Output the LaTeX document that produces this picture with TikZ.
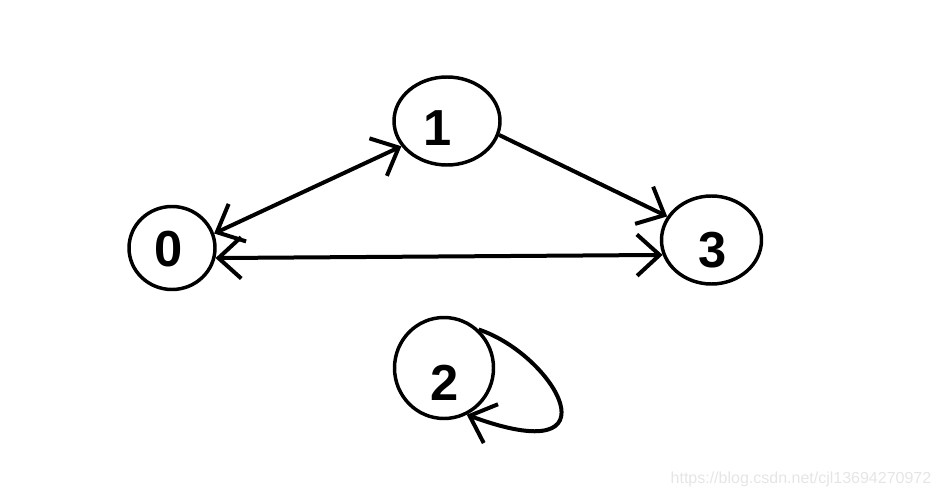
\documentclass[tikz,border=0pt]{standalone}
\usepackage{fontspec}
\setmainfont{Liberation Sans}
\usetikzlibrary{arrows.meta,shapes.geometric}

\tikzset{
  vertex/.style={draw, ellipse, line width=2.6pt, inner sep=0pt},
  num/.style={font=\fontsize{38}{38}\selectfont\bfseries},
  edge/.style={line width=3pt},
  barb/.style={-{Straight Barb[length=17pt,width=31pt]}},
  dbarb/.style={{Straight Barb[length=17pt,width=31pt]}-{Straight Barb[length=17pt,width=31pt]}},
}

\begin{document}
\begin{tikzpicture}[x=0.75pt,y=-0.75pt]
    \useasboundingbox (0,0) rectangle (942,499);

    % vertices
    \node[vertex, minimum width=64.5pt, minimum height=62.25pt] (v0) at (172,248) {};
    \node[vertex, minimum width=79.5pt, minimum height=66pt] (v1) at (447,121) {};
    \node[vertex, minimum width=75pt, minimum height=66pt] (v3) at (711.5,240) {};
    \node[vertex, minimum width=74.25pt, minimum height=75.75pt] (v2) at (444,368) {};

    \node[num] (n0) at (168.5,249.5) {0};
    \node[num] (n1) at (438,128.5) {1};
    \node[num] (n3) at (712.5,250.5) {3};
    \node[num] (n2) at (444.5,382.5) {2};

    % edges
    \draw[edge, dbarb] (v0.19) -- (v1.209);
    \draw[edge, barb] (v1.-15) -- (v3.152);
    \draw[edge, dbarb] (v0.-13) -- (v3.197);
    \draw[edge, barb] (v2.48) .. controls (555,355) and (622,472) .. (v2.-64);

    \node[font=\fontsize{12}{14}\selectfont, text=black!10, anchor=east] (mark) at (936,479) {https://blog.csdn.net/cjl13694270972};
\end{tikzpicture}
\end{document}
